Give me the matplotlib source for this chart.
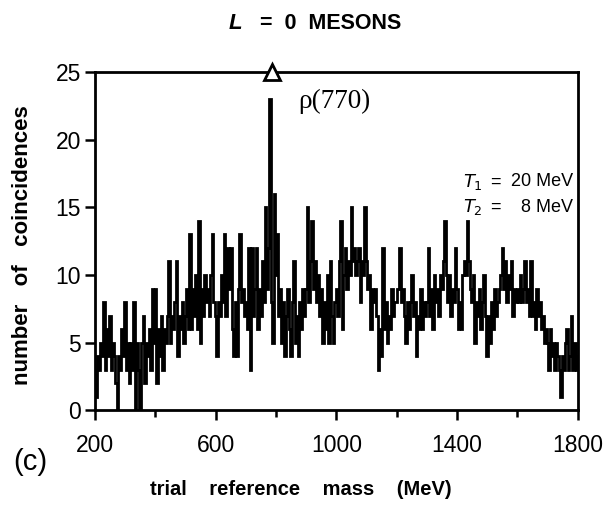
import numpy as np
import matplotlib
matplotlib.use("Agg")
import matplotlib.pyplot as plt
from matplotlib.ticker import MultipleLocator

# trial reference mass (MeV), 5 MeV bins
mass = np.arange(200, 1801, 5)

counts = [
    # 200-295
    3, 1, 4, 3, 5, 4, 8, 3, 6, 4, 7, 3, 5, 4, 2, 0, 4, 3, 6, 4,
    # 300-395
    8, 3, 5, 2, 5, 3, 8, 0, 5, 3, 0, 5, 7, 2, 5, 4, 6, 3, 9, 5,
    # 400-495
    9, 2, 6, 4, 7, 3, 6, 5, 7, 11, 5, 7, 6, 8, 11, 4, 7, 6, 8, 5,
    # 500-595
    7, 9, 6, 13, 6, 9, 7, 10, 6, 14, 5, 9, 7, 10, 8, 9, 7, 10, 13, 8,
    # 600-695
    7, 4, 8, 7, 10, 8, 13, 7, 12, 9, 12, 6, 4, 8, 4, 9, 13, 8, 9, 7,
    # 700-795
    8, 6, 12, 3, 12, 7, 9, 12, 6, 9, 7, 11, 8, 15, 9, 12, 23, 8, 5, 16,
    # 800-895
    10, 13, 7, 9, 5, 8, 4, 7, 9, 6, 4, 8, 11, 5, 7, 4, 8, 6, 9, 7,
    # 900-995
    9, 15, 8, 11, 14, 9, 11, 8, 10, 7, 9, 5, 8, 6, 10, 5, 11, 7, 5, 8,
    # 1000-1095
    9, 7, 11, 14, 6, 10, 12, 9, 11, 10, 15, 11, 12, 10, 11, 12, 8, 11, 10, 15,
    # 1100-1195
    11, 9, 10, 6, 9, 8, 9, 7, 3, 6, 4, 12, 6, 8, 5, 7, 6, 9, 7, 8,
    # 1200-1295
    8, 9, 12, 8, 9, 7, 5, 8, 6, 8, 10, 7, 8, 4, 7, 6, 9, 6, 8, 7,
    # 1300-1395
    8, 12, 7, 9, 6, 10, 8, 9, 7, 10, 9, 11, 14, 10, 8, 10, 7, 9, 8, 12,
    # 1400-1495
    9, 6, 8, 6, 10, 11, 10, 14, 11, 9, 8, 10, 5, 8, 7, 9, 6, 8, 10, 7,
    # 1500-1595
    4, 7, 5, 8, 6, 9, 7, 8, 9, 10, 12, 9, 11, 8, 10, 9, 11, 7, 9, 8,
    # 1600-1695
    9, 8, 10, 8, 9, 11, 8, 9, 7, 11, 7, 8, 6, 9, 7, 8, 6, 7, 5, 6,
    # 1700-1795
    5, 3, 6, 4, 5, 3, 5, 4, 3, 1, 4, 3, 5, 6, 3, 4, 7, 3, 5, 3,
    # 1800
    4,
]

x_major = [200, 600, 1000, 1400, 1800]
y_major = [0, 5, 10, 15, 20, 25]
rho_mass = 785

plt.rcParams['font.family'] = ['Liberation Sans', 'DejaVu Sans']

fig = plt.figure(figsize=(6.05, 5.13), dpi=100)
ax = fig.add_axes([0.157, 0.200, 0.798, 0.660])

ax.plot(mass, counts, color='black', lw=2.0, drawstyle='steps-mid',
        solid_joinstyle='miter')
ax.plot([rho_mass], [25], marker='^', ms=12, mfc='white', mec='black',
        mew=2, clip_on=False, zorder=5)

ax.set_xlim(200, 1800)
ax.set_ylim(0, 25)
ax.set_xticks(x_major)
ax.xaxis.set_minor_locator(MultipleLocator(200))
ax.set_yticks(y_major)
ax.tick_params(axis='both', which='major', direction='out', length=7,
               width=1.8, labelsize=16.5)
ax.tick_params(axis='x', which='major', pad=10)
ax.tick_params(axis='y', which='major', pad=3)
ax.tick_params(axis='x', which='minor', direction='out', length=5, width=1.8)
for s in ax.spines.values():
    s.set_linewidth(2)

ax.text(872, 22.8, 'ρ(770)', family=['Liberation Serif', 'DejaVu Serif'],
        fontsize=19.5, ha='left', va='center')
for yy, tname, val in [(0.675, r'$T_1$', '20 MeV'), (0.60, r'$T_2$', '8 MeV')]:
    ax.text(0.762, yy, tname, transform=ax.transAxes, fontsize=13,
            ha='left', va='center')
    ax.text(0.818, yy, '=', transform=ax.transAxes, fontsize=13,
            ha='left', va='center')
    ax.text(0.99, yy, val, transform=ax.transAxes, fontsize=13,
            ha='right', va='center')

fig.text(0.378, 0.955, 'L', fontsize=16, fontweight='bold', style='italic',
         ha='left', va='center')
fig.text(0.43, 0.955, '=  0  MESONS', fontsize=15.5, fontweight='bold',
         ha='left', va='center')

fig.text(0.037, 0.522, 'number   of   coincidences', rotation=90, fontsize=16,
         fontweight='bold', ha='center', va='center')
fig.text(0.498, 0.045, 'trial    reference    mass    (MeV)', fontsize=14.5,
         fontweight='bold', ha='center', va='center')
fig.text(0.022, 0.10, '(c)', fontsize=21, ha='left', va='center')

fig.savefig('out.png', dpi=100, facecolor='white')
